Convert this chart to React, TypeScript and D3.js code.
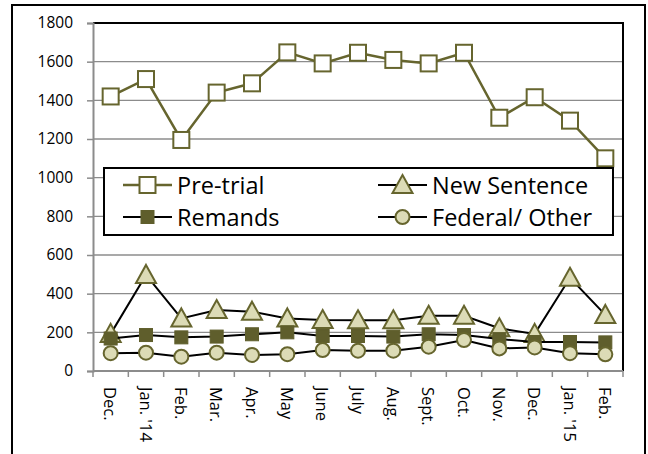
import * as d3 from "d3";
import { useEffect, useRef } from "react";

const months = ["Dec.", "Jan. '14", "Feb.", "Mar.", "Apr.", "May", "June", "July", "Aug.", "Sept.", "Oct.", "Nov.", "Dec.", "Jan. '15", "Feb."];
const preTrial = [1420, 1510, 1195, 1440, 1488, 1648, 1591, 1646, 1609, 1591, 1646, 1310, 1416, 1295, 1100];
const newSentence = [192, 497, 272, 315, 307, 272, 264, 262, 262, 286, 286, 221, 192, 482, 290];
const remands = [168, 186, 174, 178, 190, 200, 181, 181, 178, 190, 186, 165, 150, 150, 148];
const federal = [92, 95, 74, 95, 83, 87, 108, 105, 105, 126, 160, 117, 122, 92, 86];
const yTicks = [0, 200, 400, 600, 800, 1000, 1200, 1400, 1600, 1800];

const OLIVE = "#66652e";
const LIGHT = "#dcdbb6";
const W = 648;
const H = 454;
const m = { left: 93, right: 25, top: 23, bottom: 83 };

function drawMarker(g, shape, x, y) {
  if (shape === "openSquare") {
    g.append("rect").attr("x", x - 8).attr("y", y - 8).attr("width", 16).attr("height", 16)
      .attr("fill", "#fff").attr("stroke", OLIVE).attr("stroke-width", 2);
  } else if (shape === "square") {
    g.append("rect").attr("x", x - 6.5).attr("y", y - 6.5).attr("width", 13).attr("height", 13)
      .attr("fill", "#5f5e2c").attr("stroke", "#5f5e2c").attr("stroke-width", 1);
  } else if (shape === "triangle") {
    g.append("path").attr("d", `M${x},${y - 10}L${x + 10},${y + 8}L${x - 10},${y + 8}Z`)
      .attr("fill", LIGHT).attr("stroke", OLIVE).attr("stroke-width", 2);
  } else {
    g.append("circle").attr("cx", x).attr("cy", y).attr("r", 7)
      .attr("fill", LIGHT).attr("stroke", OLIVE).attr("stroke-width", 2);
  }
}

export default function App() {
  const ref = useRef(null);

  useEffect(() => {
    const svg = d3.select(ref.current);
    svg.selectAll("*").remove();
    const font = "'Open Sans', sans-serif";

    const x = d3.scaleBand().domain(months.map((d, i) => String(i)))
      .range([m.left, W - m.right]);
    const y = d3.scaleLinear().domain([0, 1800]).range([H - m.bottom, m.top]);
    const cx = (i) => x(String(i)) + x.bandwidth() / 2;

    // outer frame
    svg.append("rect").attr("x", 12).attr("y", 5).attr("width", 633).attr("height", 460)
      .attr("fill", "#fff").attr("stroke", "#000").attr("stroke-width", 2);

    // grid
    svg.append("g").selectAll("line").data(yTicks.slice(1, -1)).join("line")
      .attr("x1", m.left).attr("x2", W - m.right)
      .attr("y1", (d) => y(d)).attr("y2", (d) => y(d))
      .attr("stroke", "#8c8c8c").attr("stroke-width", 1.3);

    // plot frame top/right
    svg.append("path")
      .attr("d", `M${m.left},${y(1800)}H${W - m.right}V${y(0)}`)
      .attr("fill", "none").attr("stroke", "#000").attr("stroke-width", 2);

    // y axis
    const ya = svg.append("g").attr("transform", `translate(${m.left},0)`)
      .call(d3.axisLeft(y).tickValues(yTicks).tickFormat(d3.format("d")).tickSize(6).tickPadding(14));
    ya.select(".domain").attr("stroke", "#8c8c8c").attr("stroke-width", 2);
    ya.selectAll(".tick line").attr("stroke", "#8c8c8c").attr("stroke-width", 1.5);
    ya.selectAll("text").attr("font-family", font).attr("font-size", 15.5).attr("fill", "#000");

    // x axis
    const xa = svg.append("g").attr("transform", `translate(0,${y(0)})`);
    xa.append("line").attr("x1", m.left).attr("x2", W - m.right)
      .attr("stroke", "#8c8c8c").attr("stroke-width", 2);
    xa.selectAll(".tk").data(d3.range(months.length + 1)).join("line")
      .attr("x1", (i) => m.left + i * x.bandwidth()).attr("x2", (i) => m.left + i * x.bandwidth())
      .attr("y1", 0).attr("y2", 6).attr("stroke", "#8c8c8c").attr("stroke-width", 1.5);
    xa.selectAll("text").data(months).join("text")
      .attr("transform", (d, i) => `translate(${cx(i)},16) rotate(90)`)
      .attr("dominant-baseline", "central")
      .attr("font-family", font).attr("font-size", 16.5).text((d) => d);

    const line = d3.line().x((d, i) => cx(i)).y((d) => y(d));
    const series = [
      { data: preTrial, color: OLIVE, width: 2.5, shape: "openSquare" },
      { data: newSentence, color: "#000", width: 2, shape: "triangle" },
      { data: remands, color: "#000", width: 2, shape: "square" },
      { data: federal, color: "#000", width: 2, shape: "circle" },
    ];
    series.forEach((s) => {
      svg.append("path").attr("d", line(s.data)).attr("fill", "none")
        .attr("stroke", s.color).attr("stroke-width", s.width);
      const g = svg.append("g");
      s.data.forEach((v, i) => drawMarker(g, s.shape, cx(i), y(v)));
    });

    // legend
    const lg = svg.append("g");
    lg.append("rect").attr("x", 104).attr("y", 168).attr("width", 509).attr("height", 67)
      .attr("fill", "#fff").attr("stroke", "#000").attr("stroke-width", 2);
    const items = [
      { name: "Pre-trial", s: series[0], lx: 123, ly: 185 },
      { name: "New Sentence", s: series[1], lx: 378, ly: 185 },
      { name: "Remands", s: series[2], lx: 123, ly: 217 },
      { name: "Federal/ Other", s: series[3], lx: 378, ly: 217 },
    ];
    items.forEach((it) => {
      lg.append("line").attr("x1", it.lx).attr("x2", it.lx + 49).attr("y1", it.ly).attr("y2", it.ly)
        .attr("stroke", it.s.color).attr("stroke-width", it.s.width);
      drawMarker(lg, it.s.shape, it.lx + 24.5, it.ly);
      lg.append("text").attr("x", it.lx + 54).attr("y", it.ly).attr("dominant-baseline", "central")
        .attr("font-family", font).attr("font-size", 23.5).text(it.name);
    });
  }, []);

  return (
    <svg ref={ref} width={W} height={H} style={{ position: "absolute", left: 0, top: 0 }} />
  );
}
